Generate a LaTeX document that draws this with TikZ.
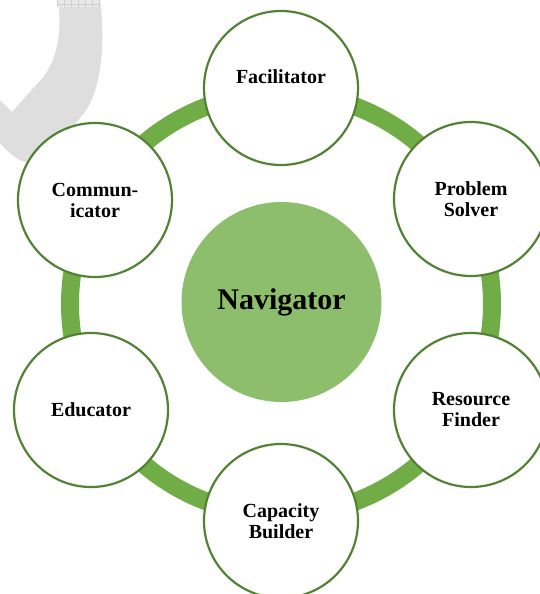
\documentclass[tikz,border=0pt]{standalone}
\usepackage{fontspec}
\setmainfont{Liberation Serif}
\definecolor{ringgreen}{HTML}{70AD47}
\definecolor{bordergreen}{HTML}{548235}
\definecolor{centergreen}{HTML}{8CBE6B}
\definecolor{ghost}{HTML}{DEDEDE}
\definecolor{ghostlight}{HTML}{E8E8E8}
\definecolor{ghostline}{HTML}{CFCFCF}
\begin{document}
\begin{tikzpicture}[x=1pt,y=-1pt,
  rolecirc/.style={circle,draw=bordergreen,line width=2.2pt,fill=white,minimum size=154pt,inner sep=0pt},
  rolelbl/.style={font=\bfseries\fontsize{20}{21}\selectfont,align=center,text=black},
  hub/.style={circle,fill=centergreen,minimum size=200pt,inner sep=0pt,font=\bfseries\fontsize{30}{32}\selectfont}]
\useasboundingbox (0,0) rectangle (540,594);
\clip (0,0) rectangle (540,594);
% faint background artefact
\fill[ghost] (58,-1) .. controls (62,30) and (58,55) .. (45,75) -- (12,112) -- (0,100) -- (0,143)
  .. controls (8,152) and (18,162) .. (30,163) .. controls (40,164) and (46,158) .. (55,148)
  -- (85,112) .. controls (100,90) and (106,50) .. (100,-1) -- cycle;
\fill[ghostlight] (57,0) rectangle (99,7);
\foreach \gx in {57,64,...,99} \draw[ghostline,line width=0.5pt] (\gx,0) -- (\gx,7);
\draw[ghostline,line width=0.5pt] (57,4) -- (99,4);
% ring
\coordinate (ringc) at (281,304);
\draw[ringgreen,line width=18pt] (ringc) circle[radius=211];
% centre
\node[hub] (nav) at (281.5,302) {Navigator};
% roles
\node[rolecirc] (fac) at (281,88) {};
\node[rolelbl] (facT) at (281,77) {Facilitator};
\node[rolecirc,rolelbl] (ps) at (471,199) {Problem\\Solver};
\node[rolecirc,rolelbl] (rf) at (471,410) {Resource\\Finder};
\node[rolecirc,rolelbl] (cb) at (281,521) {Capacity\\Builder};
\node[rolecirc,rolelbl] (ed) at (91,410) {Educator};
\node[rolecirc,rolelbl] (co) at (95,200) {Commun-\\icator};
\end{tikzpicture}
\end{document}
